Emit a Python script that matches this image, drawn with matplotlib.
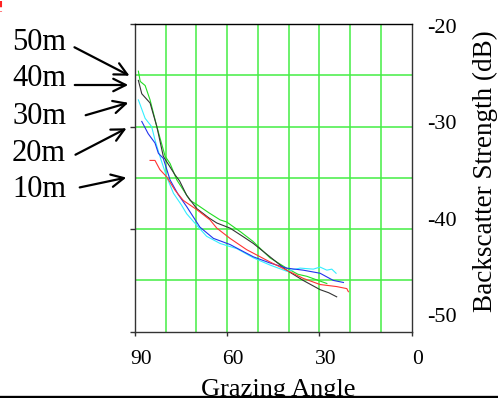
import matplotlib
matplotlib.use("Agg")
import matplotlib.pyplot as plt
import matplotlib.transforms as mtransforms
from matplotlib.lines import Line2D

# ── Data ─────────────────────────────────────────────────────────
# grazing angle (deg) / backscatter strength (dB) per water depth
ang_50 = [88.9, 88.3, 86.7, 85.1, 82.9, 80.2, 78.6, 76.4, 72.1, 69.9, 66.0, 62.3,
          60.2, 55.5, 51.6, 46.1, 40.7, 37.0, 34.1, 30.4, 27.6]
db_50 = [-24.6, -25.6, -26.0, -27.4, -30.0, -32.9, -33.6, -35.2, -37.2, -37.6, -38.4, -39.1,
         -39.3, -40.3, -41.2, -42.8, -43.8, -44.4, -44.6, -45.0, -45.3]

ang_40 = [88.9, 87.8, 85.1, 82.9, 80.8, 77.0, 75.5, 73.2, 69.9, 66.0, 63.4, 59.1,
          55.0, 51.5, 46.1, 40.7, 35.3, 29.8, 27.0, 24.4]
db_40 = [-25.5, -26.8, -27.7, -30.0, -32.9, -34.7, -35.3, -36.7, -38.0, -38.9, -39.4, -39.9,
         -40.7, -41.4, -42.7, -44.0, -45.0, -45.9, -46.2, -46.6]

ang_30 = [88.9, 86.7, 84.6, 83.5, 81.9, 79.7, 77.5, 75.0, 73.2, 69.4, 66.7, 62.3,
          56.9, 51.5, 46.1, 40.7, 36.3, 32.0, 29.8, 27.6, 26.0, 24.6]
db_30 = [-27.4, -29.2, -30.0, -31.3, -32.9, -34.9, -36.5, -37.6, -38.5, -39.8, -40.7, -41.4,
         -41.9, -42.8, -43.5, -44.1, -43.8, -43.9, -43.7, -44.0, -43.9, -44.3]

ang_20 = [87.8, 85.7, 83.5, 82.4, 80.8, 78.6, 76.0, 73.2, 68.9, 64.5, 59.1, 51.5,
          46.1, 40.7, 35.3, 29.8, 25.5, 22.2]
db_20 = [-29.5, -30.7, -31.6, -32.6, -33.1, -35.2, -36.6, -37.8, -39.8, -40.9, -41.5, -42.7,
         -43.3, -43.8, -44.0, -44.3, -45.0, -45.2]

ang_10 = [85.1, 83.5, 81.9, 79.7, 77.0, 74.3, 69.9, 65.6, 63.4, 59.1, 53.7, 46.1,
          40.7, 35.3, 29.8, 24.4, 21.1, 20.6]
db_10 = [-33.3, -33.3, -34.2, -34.9, -36.2, -37.2, -38.1, -39.1, -39.9, -40.9, -42.0, -43.2,
         -44.0, -44.8, -45.4, -45.6, -45.8, -46.1]

depth_labels = ["50m", "40m", "30m", "20m", "10m"]
# label anchor (figure px) and arrow tip (figure px) for each depth
label_xy = [(12, 43), (12, 79), (12, 116), (12, 153), (12, 190)]
arrow_from = [(72, 46), (72, 85), (83, 116), (73, 156), (77, 188)]
arrow_to = [(132, 77), (131, 85), (131, 102), (129, 127), (129, 177)]

x_ticks = [90, 60, 30, 0]
right_ticks = [-20, -30, -40, -50]

COLORS = {
    "50m": "#22dd22",
    "40m": "#333333",
    "30m": "#33eeff",
    "20m": "#2233ee",
    "10m": "#ff3333",
    "grid": "#44ee44",
}

W, H = 498, 398
fig = plt.figure(figsize=(W / 100, H / 100), dpi=100)
ax = fig.add_axes([135 / W, 1 - 331.7 / H, 276.7 / W, 307.7 / H])

serif = "Liberation Serif"

for a, d, key in [(ang_50, db_50, "50m"), (ang_40, db_40, "40m"),
                  (ang_30, db_30, "30m"), (ang_20, db_20, "20m"),
                  (ang_10, db_10, "10m")]:
    ax.plot(a, d, color=COLORS[key], lw=0.8, zorder=3)

ax.set_xlim(90, 0)
ax.set_ylim(-50, -20)

for g in range(10, 90, 10):
    ax.axvline(g, color=COLORS["grid"], lw=1.1, zorder=1)
for g in range(-45, -20, 5):
    ax.axhline(g, color=COLORS["grid"], lw=1.1, zorder=1)

ax.set_xticks(x_ticks)
ax.set_xticklabels([str(t) for t in x_ticks], fontsize=15.5, family=serif)
ax.tick_params(axis="x", direction="out", length=3, width=1, pad=10, color="#333333")
offset = mtransforms.ScaledTranslation(6 / 100, 0, fig.dpi_scale_trans)
for lbl in ax.get_xticklabels():
    lbl.set_transform(lbl.get_transform() + offset)

ax.set_yticks(right_ticks)
ax.set_yticklabels([])
ax.tick_params(axis="y", direction="out", length=3.5, width=1, color="#333333")

for s in ax.spines.values():
    s.set_color("#333333")
    s.set_linewidth(1)
ax.spines["top"].set_color("black")

# right-hand labels, positioned as in the source figure
ax2 = ax.twinx()
ax2.set_ylim(-51.73, -19.84)
ax2.set_yticks(right_ticks)
ax2.set_yticklabels([str(t) for t in right_ticks], fontsize=16, family=serif)
ax2.tick_params(axis="y", length=0, pad=11)
for s in ax2.spines.values():
    s.set_visible(False)
fig.text(485 / W, 1 - 171 / H, "Backscatter Strength (dB)", rotation=90,
         ha="center", va="center", fontsize=19.5, family=serif)

fig.text(278 / W, 1 - 379 / H, "Grazing Angle", ha="center", va="top",
         fontsize=19, family=serif)

# depth labels with arrows pointing at the curve starts
for lab, (tx, ty), p0, p1 in zip(depth_labels, label_xy, arrow_from, arrow_to):
    fig.text(tx / W, 1 - ty / H, lab, ha="left", va="center",
             fontsize=22, family=serif)
    ax.annotate("", xy=(p1[0] / W, 1 - p1[1] / H), xycoords="figure fraction",
                xytext=(p0[0] / W, 1 - p0[1] / H), textcoords="figure fraction",
                arrowprops=dict(arrowstyle="->,head_length=0.9,head_width=0.45",
                                color="black", lw=1.6),
                annotation_clip=False)

# bottom rule and stray red mark from the scan
fig.add_artist(Line2D([0, 1], [1.5 / H, 1.5 / H], transform=fig.transFigure,
                      color="black", lw=2.4))
fig.add_artist(Line2D([1 / W, 1 / W], [1 - 1 / H, 1 - 12 / H], transform=fig.transFigure,
                      color="#ff2222", lw=1.5, ls=(0, (3, 2))))

fig.savefig("out.png", dpi=100)
